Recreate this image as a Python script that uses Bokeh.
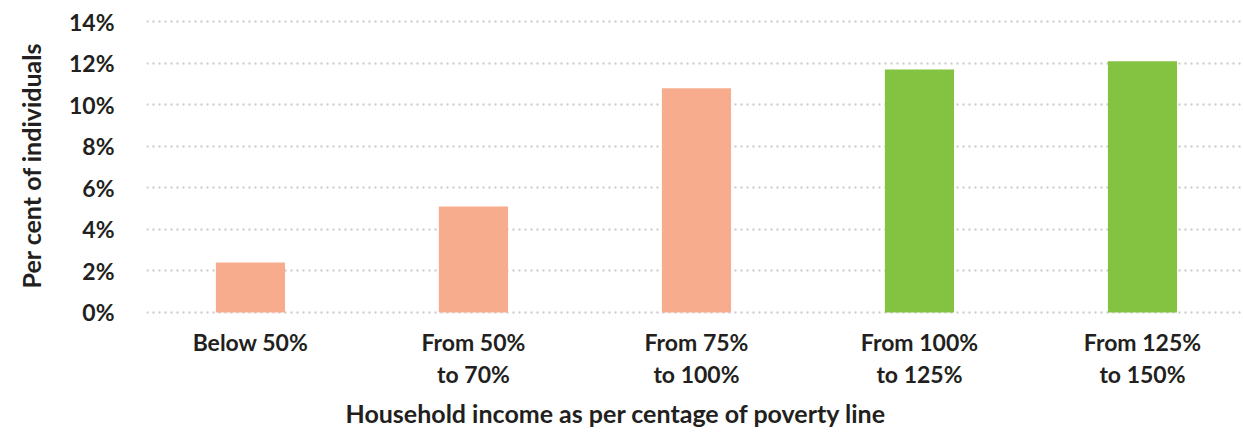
from bokeh.plotting import figure
from bokeh.models import ColumnDataSource, Range1d, FixedTicker, Title
from bokeh.embed import file_html
from bokeh.resources import INLINE

categories = ["Below 50%", "From 50%\nto 70%", "From 75%\nto 100%", "From 100%\nto 125%", "From 125%\nto 150%"]
values = [2.4, 5.1, 10.8, 11.7, 12.1]
above_poverty = [False, False, False, True, True]
y_ticks = [0, 2, 4, 6, 8, 10, 12, 14]
y_tick_labels = ["0%", "2%", "4%", "6%", "8%", "10%", "12%", "14%"]

SALMON = "#F7AC8E"
GREEN = "#84C241"
TEXT = "#231F20"
FONT = "Lato"

xs = list(range(len(categories)))
colors = [GREEN if a else SALMON for a in above_poverty]
src = ColumnDataSource(dict(x=xs, top=values, color=colors))

p = figure(width=1243, height=432, output_backend="svg", toolbar_location=None,
           x_range=Range1d(-0.466, 4.453), y_range=Range1d(-0.15, 14.3),
           min_border_left=146, min_border_right=0, min_border_top=15, min_border_bottom=117)
p.outline_line_color = None
p.background_fill_color = "white"
p.border_fill_color = "white"

p.vbar(x="x", top="top", bottom=0, width=0.31, color="color", source=src, line_color=None)

# axes
p.xaxis.ticker = FixedTicker(ticks=xs)
p.xaxis.major_label_overrides = {i: c for i, c in zip(xs, categories)}
p.xaxis.major_label_text_font = FONT
p.xaxis.major_label_text_font_size = "23px"
p.xaxis.major_label_text_font_style = "bold"
p.xaxis.major_label_text_color = TEXT
p.xaxis.major_label_text_line_height = 1.15
p.xaxis.major_label_standoff = 6
p.xaxis.axis_line_color = None
p.xaxis.major_tick_line_color = None
p.xaxis.minor_tick_line_color = None

p.yaxis.ticker = FixedTicker(ticks=y_ticks)
p.yaxis.major_label_overrides = {t: l for t, l in zip(y_ticks, y_tick_labels)}
p.yaxis.major_label_text_font = FONT
p.yaxis.major_label_text_font_size = "23px"
p.yaxis.major_label_text_font_style = "bold"
p.yaxis.major_label_text_color = TEXT
p.yaxis.major_label_standoff = 26
p.yaxis.axis_line_color = None
p.yaxis.major_tick_line_color = None
p.yaxis.minor_tick_line_color = None
p.yaxis.axis_label = "Per cent of individuals"
p.yaxis.axis_label_text_font = FONT
p.yaxis.axis_label_text_font_size = "25px"
p.yaxis.axis_label_text_font_style = "bold"
p.yaxis.axis_label_text_color = TEXT
p.yaxis.axis_label_standoff = 20

p.xgrid.grid_line_color = None
p.ygrid.grid_line_color = "#C8C8C8"
p.ygrid.grid_line_width = 2
p.ygrid.grid_line_dash = "2 4"

p.add_layout(Title(text="Household income as per centage of poverty line", align="left",
                   offset=199, text_font=FONT, text_font_size="25px", text_font_style="bold",
                   text_color=TEXT, standoff=10), "below")

open("out.html", "w").write(file_html(p, INLINE))
